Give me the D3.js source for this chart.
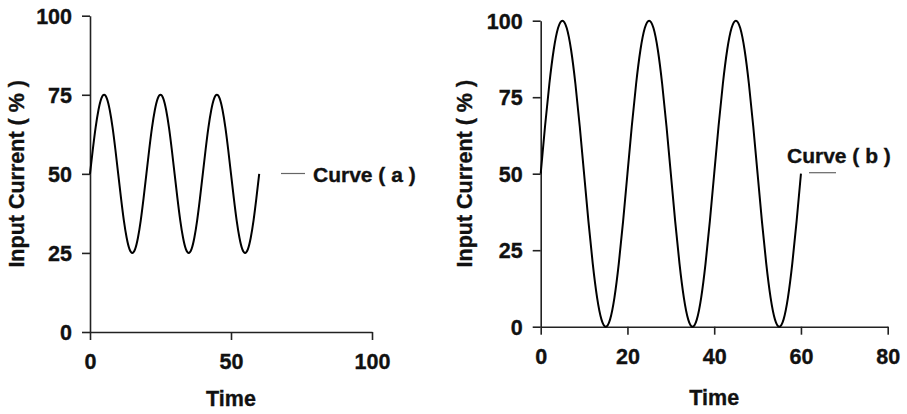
<!DOCTYPE html>
<html><head><meta charset="utf-8">
<script src="https://cdn.jsdelivr.net/npm/d3@7"></script>
<style>
body{margin:0;background:#fff;}
text{font-family:"Liberation Sans",Arial,sans-serif;font-weight:bold;fill:#111;stroke:#111;stroke-width:0.35px;}
</style></head>
<body><svg id="c" width="907" height="414"></svg>
<script>
const time = [0,1,2,3,4,5,6,7,8,9,10,11,12,13,14,15,16,17,18,19,20,21,22,23,24,25,26,27,28,29,30,31,32,33,34,35,36,37,38,39,40,41,42,43,44,45,46,47,48,49,50,51,52,53,54,55,56,57,58,59,60];
const curveA = [50,57.7,64.7,70.2,73.8,75,73.8,70.2,64.7,57.7,50,42.3,35.3,29.8,26.2,25,26.2,29.8,35.3,42.3,
  50,57.7,64.7,70.2,73.8,75,73.8,70.2,64.7,57.7,50,42.3,35.3,29.8,26.2,25,26.2,29.8,35.3,42.3,
  50,57.7,64.7,70.2,73.8,75,73.8,70.2,64.7,57.7,50,42.3,35.3,29.8,26.2,25,26.2,29.8,35.3,42.3,50];
const curveB = [50,65.5,79.4,90.5,97.6,100,97.6,90.5,79.4,65.5,50,34.5,20.6,9.5,2.4,0,2.4,9.5,20.6,34.5,
  50,65.5,79.4,90.5,97.6,100,97.6,90.5,79.4,65.5,50,34.5,20.6,9.5,2.4,0,2.4,9.5,20.6,34.5,
  50,65.5,79.4,90.5,97.6,100,97.6,90.5,79.4,65.5,50,34.5,20.6,9.5,2.4,0,2.4,9.5,20.6,34.5,50];
const yTicks = [0,25,50,75,100];
const xTicksA = [0,50,100];
const xTicksB = [0,20,40,60,80];
const legendA = "Curve ( a )";
const legendB = "Curve ( b )";
const yTitle = "Input Current ( % )";
const xTitle = "Time";

const svg = d3.select("#c");

function panel(o){
  const g = svg.append("g");
  const x = d3.scaleLinear().domain(o.xDomain).range([o.x0, o.x1]);
  const y = d3.scaleLinear().domain([0,100]).range([o.y0, o.y1]);
  const ax = g.append("g").attr("transform",`translate(0,${o.y0})`)
    .call(d3.axisBottom(x).tickValues(o.xTicks).tickSize(8).tickSizeOuter(0).tickPadding(14).tickFormat(d3.format("d")));
  const ay = g.append("g").attr("transform",`translate(${o.x0},0)`)
    .call(d3.axisLeft(y).tickValues(yTicks).tickSize(8).tickSizeOuter(0).tickPadding(10).tickFormat(d3.format("d")));
  [ax,ay].forEach(a=>{
    a.selectAll("path,line").attr("stroke","#222").attr("stroke-width",1.6);
    a.selectAll("text").style("font-size","21.5px").attr("fill","#111");
  });
  ay.selectAll("text").attr("dy","0.36em");
  g.append("text").attr("x",(o.x0+o.x1)/2).attr("y",o.xTitleY).attr("text-anchor","middle")
    .style("font-size","21.5px").text(xTitle);
  g.append("text").attr("transform",`translate(${o.yTitleX},${(o.y0+o.y1)/2}) rotate(-90)`)
    .attr("text-anchor","middle").style("font-size","21.5px").text(yTitle);
  const line = d3.line().x((d,i)=>x(time[i])).y(d=>y(d)).curve(d3.curveNatural);
  g.append("path").datum(o.values).attr("d",line).attr("fill","none").attr("stroke","#000").attr("stroke-width",2);
  g.append("line").attr("x1",o.legLine[0]).attr("x2",o.legLine[1]).attr("y1",o.legLine[2]).attr("y2",o.legLine[2])
    .attr("stroke","#666").attr("stroke-width",1.2);
  g.append("text").attr("x",o.legText[0]).attr("y",o.legText[1]).style("font-size","21px").text(o.legend);
}

panel({xDomain:[0,100], xTicks:xTicksA, x0:90, x1:372, y0:332, y1:15.7, values:curveA,
  xTitleY:406, yTitleX:24, legLine:[281,305,173.5], legText:[313,182], legend:legendA});
panel({xDomain:[0,80], xTicks:xTicksB, x0:540.7, x1:887.7, y0:326.7, y1:20.7, values:curveB,
  xTitleY:405, yTitleX:472, legLine:[809,836,172.7], legText:[787,163], legend:legendB});
</script></body></html>
